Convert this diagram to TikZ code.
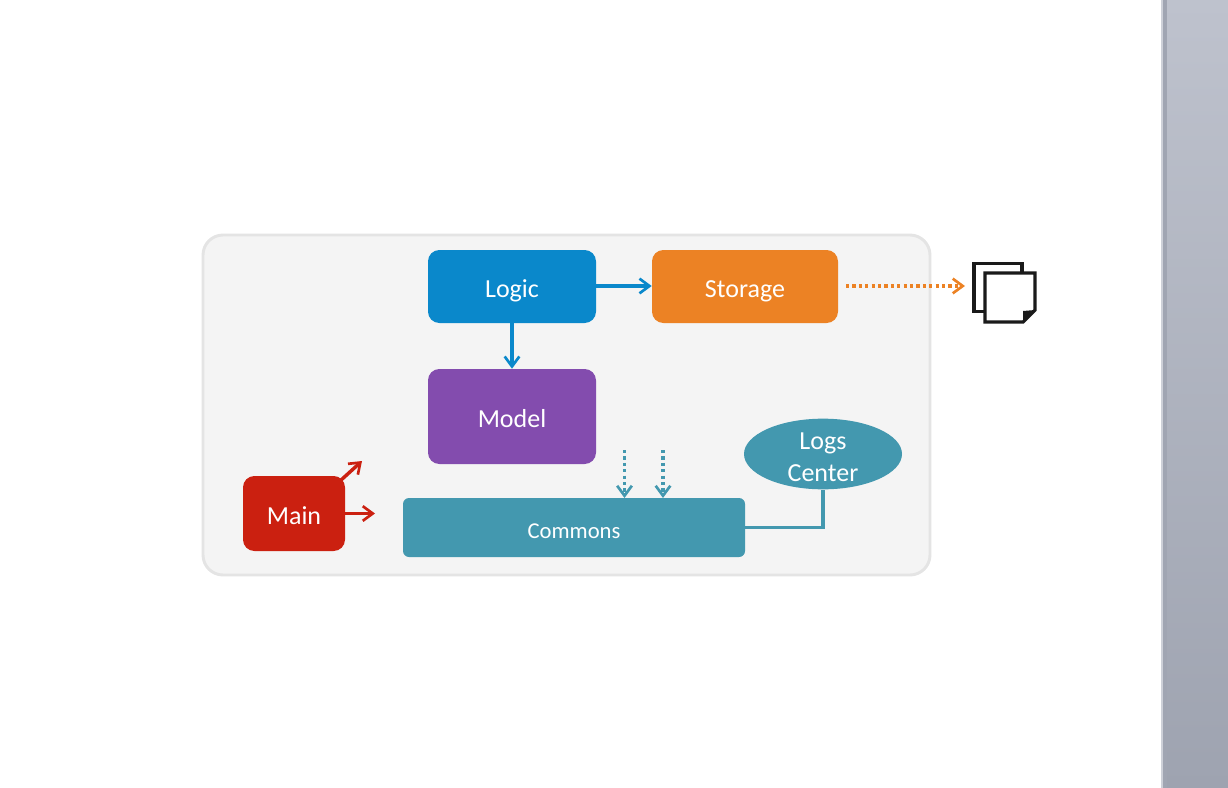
\documentclass[tikz,border=0pt]{standalone}
\usepackage{fontspec}
\setmainfont{Carlito}
\usetikzlibrary{arrows.meta,positioning,calc,shapes.geometric}
\definecolor{cFrame}{HTML}{E4E4E4}
\definecolor{cPanel}{HTML}{F4F4F4}
\definecolor{cLogic}{HTML}{0A88CB}
\definecolor{cStorage}{HTML}{EC8224}
\definecolor{cModel}{HTML}{834CAE}
\definecolor{cMain}{HTML}{CB2010}
\definecolor{cCommons}{HTML}{4398AF}
\definecolor{cSideTop}{HTML}{BEC2CD}
\definecolor{cSideBot}{HTML}{9EA3B0}
\definecolor{cSideEdge}{HTML}{A0A5B2}
\definecolor{cSideLight}{HTML}{CDD0D8}
\definecolor{cIcon}{HTML}{1A1A1A}

\begin{document}
\begin{tikzpicture}[x=0.75pt,y=-0.75pt,
    compbox/.style={rectangle,rounded corners=8.5pt,inner sep=0pt,text=white,text height=17.8pt,text depth=1pt,font=\fontsize{19.5}{19.5}\selectfont},
    link/.style={line width=2.6pt,-{Straight Barb[length=7.5pt,width=11pt,line width=2pt]}},
    dotlink/.style={link,dash pattern=on 2.4pt off 2.4pt},
    pagesheet/.style={draw=cIcon,line width=2.4pt,fill=white}]
  \useasboundingbox (0,0) rectangle (1228,788);
  % window side bar at the right
  \shade[top color=cSideTop,bottom color=cSideBot] (1161,0) rectangle (1228,788);
  \fill[cSideLight] (1161,0) rectangle (1163,788);
  \fill[cSideEdge] (1163,0) rectangle (1167,788);
  % outer panel
  \draw[draw=cFrame,fill=cPanel,line width=2.2pt,rounded corners=15pt] (203,235) rectangle (930,575);
  % components
  \node[compbox,fill=cLogic,minimum width=126pt,minimum height=54.75pt] (logic) at (512,286.5) {Logic};
  \node[compbox,fill=cStorage,minimum width=139.5pt,minimum height=54.75pt] (storage) at (745,286.5) {Storage};
  \node[compbox,fill=cModel,minimum width=126pt,minimum height=71.25pt] (model) at (512,416.5) {Model};
  \node[compbox,fill=cMain,minimum width=76.5pt,minimum height=56.25pt] (main) at (294,513.5) {Main};
  \node[compbox,fill=cCommons,rounded corners=4.5pt,minimum width=256.5pt,minimum height=44.25pt,text height=17pt,font=\fontsize{17}{17}\selectfont] (commons) at (574,527.5) {Commons};
  \node[ellipse,fill=cCommons,minimum width=118.5pt,minimum height=53pt,inner sep=0pt,
    label={[align=center,text=white,yshift=-2.6pt,font=\fontsize{19.5}{24}\selectfont]center:Logs\\Center}] (logs) at (823,454) {};
  % file icon
  \node[pagesheet,rectangle,minimum width=36pt,minimum height=36pt,inner sep=0pt] (backsheet) at (998,287.5) {};
  \draw[pagesheet] (985,273) -- (1035,273) -- (1035,310) -- (1023,322) -- (985,322) -- cycle;
  \fill[cIcon] (1035,310) -- (1023,322) -- (1023,311) -- cycle;
  % free ends
  \coordinate (storageout) at (846,286);
  \coordinate (filein) at (965,286);
  \coordinate (mainup) at (362,461);
  \coordinate (mainupstart) at (340,481);
  \coordinate (mainright) at (375,513.5);
  \coordinate (dotatop) at (624.5,450);
  \coordinate (dotabot) at (624.5,498);
  \coordinate (dotbtop) at (663,450);
  \coordinate (dotbbot) at (663,498);
  % connectors
  \draw[link,cLogic] (logic.east |- 0,286) -- (storage.west |- 0,286);
  \draw[link,cLogic] (logic.south) -- (model.north);
  \draw[dotlink,cStorage] (storageout) -- (filein);
  \draw[link,cMain] (mainupstart) -- (mainup);
  \draw[link,cMain] (main.east) -- (mainright);
  \draw[dotlink,cCommons] (dotatop) -- (dotabot);
  \draw[dotlink,cCommons] (dotbtop) -- (dotbbot);
  \draw[cCommons,line width=2.6pt] (commons.east) -| (logs.south);
\end{tikzpicture}
\end{document}
